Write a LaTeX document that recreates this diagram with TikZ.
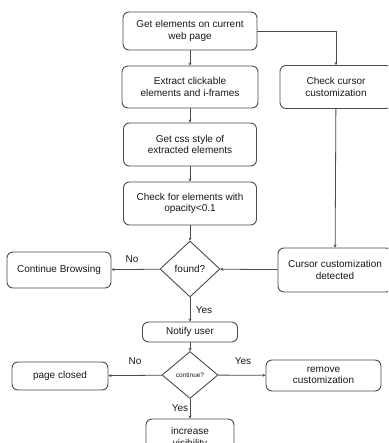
\documentclass[tikz,border=0pt]{standalone}
\usepackage{fontspec}
\setmainfont{Liberation Sans}
\usetikzlibrary{shapes.geometric,arrows.meta}
\begin{document}
\begin{tikzpicture}[x=1pt,y=-1pt,
  box/.style={draw=black!70,line width=0.9pt,rounded corners=6pt,align=center,font=\fontsize{10}{11.5}\selectfont,inner sep=0pt,text=black!90},
  dec/.style={draw=black!70,line width=0.9pt,diamond,inner sep=0pt,font=\fontsize{10}{11.5}\selectfont,text=black!90},
  arr/.style={draw=black!70,line width=0.8pt,-{Stealth[length=3pt,width=3pt]}},
  lbl/.style={font=\fontsize{10}{11.5}\selectfont,inner sep=0pt,text=black!90}]
\useasboundingbox (0,0) rectangle (388,443);
\fill[white] (0,0) rectangle (388,443);
\clip (0,0) rectangle (388,443);
\node[box,minimum width=134pt,minimum height=38pt] (b1) at (190,31) {Get elements on current\\web page};
\node[box,minimum width=136pt,minimum height=42pt] (b2) at (190,87) {Extract clickable\\elements and i-frames};
\node[box,minimum width=133pt,minimum height=43pt] (b3) at (190,144.5) {Get css style of\\extracted elements};
\node[box,minimum width=133pt,minimum height=43pt] (b4) at (190,203.5) {Check for elements with\\opacity<0.1};
\node[dec,minimum width=60pt,minimum height=56pt] (f) at (190,269) {found?};
\node[box,minimum width=104pt,minimum height=36pt] (cb) at (59,270) {Continue Browsing};
\node[box,minimum width=114pt,minimum height=44pt] (cd) at (335,270) {Cursor customization\\detected};
\node[box,minimum width=112pt,minimum height=43pt] (cc) at (336,87) {Check cursor\\customization};
\node[box,minimum width=95pt,minimum height=20pt] (nu) at (190,332) {Notify user};
\node[dec,minimum width=56pt,minimum height=47pt,font=\fontsize{6.5}{8}\selectfont] (c) at (190,375) {continue?};
\node[box,minimum width=96pt,minimum height=28pt] (pc) at (60,376) {page closed};
\node[box,minimum width=115pt,minimum height=31pt] (rc) at (323.5,375.5) {remove\\customization};
\node[box,minimum width=88pt,minimum height=38pt] (iv) at (190,438) {increase\\visibility};
\draw[arr] (b1) -- (b2);
\draw[arr] (b2) -- (b3);
\draw[arr] (b3) -- (b4);
\draw[arr] (b4) -- (f);
\draw[arr] (f) -- (cb);
\draw[arr] (f) -- (nu);
\draw[arr] (nu) -- (c);
\draw[arr] (c) -- (pc);
\draw[arr] (c) -- (rc);
\draw[arr] (c) -- (iv);
\draw[arr] (b1.east) -| (cc.north);
\draw[arr] (cc) -- (cd);
\draw[arr] (cd) -- (f);
\node[lbl] (l1) at (132,259) {No};
\node[lbl] (l2) at (204,310) {Yes};
\node[lbl] (l3) at (135,361) {No};
\node[lbl] (l4) at (243,361) {Yes};
\node[lbl] (l5) at (180,408) {Yes};
\end{tikzpicture}
\end{document}
